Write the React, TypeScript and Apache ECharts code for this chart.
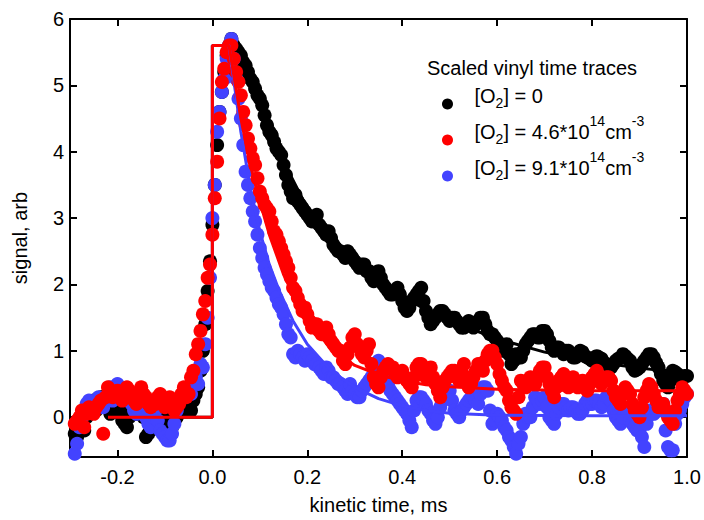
import React, { useEffect, useRef } from "react";
import * as echarts from "echarts";

const FONT = '"Liberation Sans", Arial, Helvetica, sans-serif';

// shared kinetic time axis (ms)
const time = [
  -0.29, -0.285, -0.28, -0.275, -0.27, -0.265, -0.26, -0.255,
  -0.25, -0.245, -0.24, -0.235, -0.23, -0.225, -0.22, -0.215, -0.21, -0.205,
  -0.2, -0.195, -0.19, -0.185, -0.18, -0.175, -0.17, -0.165, -0.16, -0.155,
  -0.15, -0.145, -0.14, -0.135, -0.13, -0.125, -0.12, -0.115, -0.11, -0.105,
  -0.1, -0.095, -0.09, -0.085, -0.08, -0.075, -0.07, -0.065, -0.06, -0.055,
  -0.05, -0.045, -0.04, -0.035, -0.03, -0.025, -0.02, -0.015, -0.01, -0.005,
  0, 0.005, 0.01, 0.015, 0.02, 0.025, 0.03, 0.035, 0.04, 0.045,
  0.05, 0.055, 0.06, 0.065, 0.07, 0.075, 0.08, 0.085, 0.09, 0.095,
  0.1, 0.105, 0.11, 0.115, 0.12, 0.125, 0.13, 0.135, 0.14, 0.145,
  0.15, 0.155, 0.16, 0.165, 0.17, 0.175, 0.18, 0.185, 0.19, 0.195,
  0.2, 0.205, 0.21, 0.215, 0.22, 0.225, 0.23, 0.235, 0.24, 0.245,
  0.25, 0.255, 0.26, 0.265, 0.27, 0.275, 0.28, 0.285, 0.29, 0.295,
  0.3, 0.305, 0.31, 0.315, 0.32, 0.325, 0.33, 0.335, 0.34, 0.345,
  0.35, 0.355, 0.36, 0.365, 0.37, 0.375, 0.38, 0.385, 0.39, 0.395,
  0.4, 0.405, 0.41, 0.415, 0.42, 0.425, 0.43, 0.435, 0.44, 0.445,
  0.45, 0.455, 0.46, 0.465, 0.47, 0.475, 0.48, 0.485, 0.49, 0.495,
  0.5, 0.505, 0.51, 0.515, 0.52, 0.525, 0.53, 0.535, 0.54, 0.545,
  0.55, 0.555, 0.56, 0.565, 0.57, 0.575, 0.58, 0.585, 0.59, 0.595,
  0.6, 0.605, 0.61, 0.615, 0.62, 0.625, 0.63, 0.635, 0.64, 0.645,
  0.65, 0.655, 0.66, 0.665, 0.67, 0.675, 0.68, 0.685, 0.69, 0.695,
  0.7, 0.705, 0.71, 0.715, 0.72, 0.725, 0.73, 0.735, 0.74, 0.745,
  0.75, 0.755, 0.76, 0.765, 0.77, 0.775, 0.78, 0.785, 0.79, 0.795,
  0.8, 0.805, 0.81, 0.815, 0.82, 0.825, 0.83, 0.835, 0.84, 0.845,
  0.85, 0.855, 0.86, 0.865, 0.87, 0.875, 0.88, 0.885, 0.89, 0.895,
  0.9, 0.905, 0.91, 0.915, 0.92, 0.925, 0.93, 0.935, 0.94, 0.945,
  0.95, 0.955, 0.96, 0.965, 0.97, 0.975, 0.98, 0.985, 0.99, 0.995,
  1.0,
];

// [O2] = 0 (black)
const signalZero = [
  -0.25, -0.3, -0.1, -0.05, -0.2, 0.0, 0.05, 0.2,
  0.25, 0.1, 0.15, 0.3, 0.3, 0.15, 0.2, 0.05, 0.1, 0.2,
  0.25, 0.1, -0.05, -0.1, -0.15, 0.0, 0.1, 0.15, 0.05, 0.1,
  0.15, 0.0, -0.3, -0.25, -0.1, 0.0, 0.05, 0.1, -0.05, 0.0,
  0.0, -0.1, -0.2, -0.15, 0.05, 0.0, 0.1, 0.15, 0.2, 0.1,
  0.15, 0.1, 0.25, 0.35, 0.45, 0.7, 1.0, 1.4, 1.9, 2.35,
  2.9, 3.5, 4.1, 4.6, 4.9, 5.2, 5.45, 5.6, 5.7, 5.6,
  5.55, 5.5, 5.45, 5.35, 5.3, 5.2, 5.1, 5.05, 4.95, 4.85,
  4.8, 4.7, 4.55, 4.4, 4.3, 4.25, 4.15, 4.05, 4.0, 3.95,
  3.8, 3.65, 3.5, 3.4, 3.3, 3.35, 3.25, 3.2, 3.15, 3.1,
  3.05, 3.0, 2.95, 3.0, 3.05, 2.9, 2.85, 2.8, 2.75, 2.8,
  2.7, 2.6, 2.55, 2.5, 2.5, 2.45, 2.4, 2.5, 2.45, 2.4,
  2.35, 2.3, 2.25, 2.3, 2.3, 2.2, 2.2, 2.1, 2.05, 2.15,
  2.2, 2.1, 2.0, 1.95, 1.9, 1.85, 1.85, 1.9, 1.95, 1.85,
  1.75, 1.65, 1.6, 1.65, 1.75, 1.8, 1.85, 1.9, 1.95, 1.75,
  1.6, 1.5, 1.4, 1.45, 1.5, 1.55, 1.6, 1.6, 1.55, 1.5,
  1.45, 1.5, 1.5, 1.45, 1.4, 1.35, 1.35, 1.4, 1.45, 1.4,
  1.35, 1.4, 1.45, 1.5, 1.5, 1.4, 1.3, 1.25, 1.25, 1.2,
  1.15, 1.1, 1.05, 1.0, 1.1, 0.95, 0.8, 0.85, 0.95, 0.9,
  0.9, 1.0, 1.1, 1.15, 1.2, 1.25, 1.25, 1.2, 1.2, 1.3,
  1.3, 1.25, 1.15, 1.05, 1.0, 1.05, 1.05, 1.0, 0.95, 1.0,
  1.0, 0.95, 0.9, 0.9, 0.95, 1.0, 0.98, 0.92, 0.9, 0.88,
  0.85, 0.9, 0.92, 0.9, 0.88, 0.82, 0.8, 0.78, 0.75, 0.8,
  0.85, 0.88, 0.9, 0.95, 0.92, 0.88, 0.85, 0.75, 0.7, 0.72,
  0.75, 0.8, 0.85, 0.9, 0.95, 0.95, 0.9, 0.82, 0.75, 0.65,
  0.55, 0.5, 0.45, 0.55, 0.7, 0.68, 0.65, 0.6, 0.6, 0.62,
  0.62,
];

// [O2] = 4.6e14 (red)
const signalMid = [
  -0.1, -0.05, 0.0, 0.1, -0.15, 0.05, 0.15, 0.1,
  0.05, 0.15, 0.2, 0.25, -0.25, 0.3, 0.45, 0.4, 0.3, 0.35,
  0.4, 0.3, 0.25, 0.35, 0.45, 0.4, 0.3, 0.25, 0.2, 0.3,
  0.45, 0.35, 0.3, 0.2, 0.15, 0.25, 0.2, 0.3, 0.35, 0.25,
  0.15, 0.25, 0.3, 0.2, 0.1, 0.15, 0.2, 0.35, 0.45, 0.3,
  0.35, 0.6, 0.7, 0.95, 1.1, 1.3, 1.55, 1.75, 2.1, 2.3,
  2.75, 3.3, 3.85, 4.5, 5.05, 5.25, 5.5, 5.6, 5.6, 5.4,
  5.2, 5.05, 4.85, 4.6, 4.4, 4.2, 4.05, 3.9, 3.8, 3.6,
  3.4, 3.3, 3.2, 3.15, 3.1, 2.95, 2.8, 2.75, 2.65, 2.55,
  2.45, 2.35, 2.25, 2.1, 1.95, 1.9, 1.8, 1.7, 1.6, 1.65,
  1.55, 1.45, 1.35, 1.4, 1.4, 1.3, 1.25, 1.3, 1.35, 1.25,
  1.15, 1.1, 1.05, 1.0, 1.0, 0.85, 0.8, 0.95, 1.05, 1.2,
  1.25, 1.1, 1.05, 0.95, 0.9, 1.0, 1.1, 0.8, 0.6, 0.5,
  0.45, 0.6, 0.7, 0.75, 0.8, 0.75, 0.75, 0.65, 0.6, 0.65,
  0.7, 0.6, 0.55, 0.5, 0.45, 0.6, 0.75, 0.8, 0.8, 0.7,
  0.6, 0.7, 0.75, 0.6, 0.5, 0.4, 0.3, 0.45, 0.55, 0.6,
  0.65, 0.7, 0.7, 0.6, 0.55, 0.7, 0.8, 0.6, 0.45, 0.5,
  0.6, 0.7, 0.8, 0.75, 0.7, 0.85, 0.95, 1.0, 1.0, 0.9,
  0.8, 0.65, 0.55, 0.45, 0.4, 0.25, 0.15, 0.1, 0.05, 0.3,
  0.55, 0.5, 0.45, 0.55, 0.6, 0.55, 0.5, 0.6, 0.7, 0.75,
  0.75, 0.6, 0.5, 0.4, 0.3, 0.45, 0.55, 0.6, 0.65, 0.55,
  0.45, 0.55, 0.6, 0.5, 0.45, 0.5, 0.55, 0.45, 0.4, 0.5,
  0.6, 0.65, 0.7, 0.6, 0.5, 0.55, 0.6, 0.6, 0.55, 0.4,
  0.3, 0.25, 0.2, 0.35, 0.45, 0.4, 0.35, 0.2, 0.1, 0.05,
  0.0, 0.15, 0.3, 0.4, 0.5, 0.45, 0.35, 0.25, 0.15, 0.2,
  0.2, 0.1, 0.0, -0.05, -0.1, 0.1, 0.25, 0.35, 0.45, 0.4,
  0.35,
];

// [O2] = 9.1e14 (blue)
const signalHigh = [
  -0.55, -0.4, -0.15, 0.0, 0.1, 0.2, 0.25, 0.15,
  0.1, 0.2, 0.3, 0.25, 0.15, 0.3, 0.35, 0.45, 0.25, 0.4,
  0.5, 0.4, 0.3, 0.35, 0.4, 0.3, 0.2, 0.1, 0.05, 0.2,
  0.35, 0.15, 0.0, -0.1, -0.15, 0.0, 0.1, -0.05, -0.2, -0.25,
  -0.3, -0.35, -0.35, -0.25, -0.1, 0.1, 0.25, 0.3, 0.35, 0.4,
  0.45, 0.35, 0.55, 0.6, 0.5, 0.8, 0.75, 1.1, 1.5, 2.1,
  3.0, 3.5, 4.3, 4.6, 4.9, 5.1, 5.4, 5.6, 5.7, 5.4,
  5.1, 4.8, 4.5, 4.1, 3.7, 3.5, 3.3, 3.1, 2.95, 2.75,
  2.55, 2.4, 2.25, 2.15, 2.05, 1.95, 1.9, 1.8, 1.7, 1.65,
  1.55, 1.4, 1.25, 1.2, 0.95, 0.9, 1.0, 0.95, 0.9, 0.85,
  0.95, 0.9, 0.85, 0.8, 0.8, 0.75, 0.7, 0.65, 0.75, 0.7,
  0.6, 0.6, 0.55, 0.5, 0.5, 0.45, 0.4, 0.35, 0.5, 0.4,
  0.35, 0.3, 0.3, 0.4, 0.45, 0.5, 0.55, 0.6, 0.7, 0.8,
  0.85, 0.75, 0.65, 0.55, 0.5, 0.4, 0.35, 0.3, 0.25, 0.2,
  0.15, 0.1, 0.05, -0.05, -0.15, 0.1, 0.25, 0.3, 0.3, 0.25,
  0.2, 0.1, 0.05, -0.05, -0.1, 0.0, 0.15, 0.25, 0.3, 0.35,
  0.4, 0.25, 0.1, 0.05, 0.0, 0.1, 0.15, 0.2, 0.25, 0.3,
  0.3, 0.25, 0.2, 0.35, 0.45, 0.45, 0.4, 0.1, -0.1, -0.05,
  0.05, 0.0, -0.05, -0.15, -0.2, -0.3, -0.35, -0.45, -0.55, -0.4,
  -0.3, -0.1, 0.05, 0.0, 0.0, 0.15, 0.3, 0.25, 0.2, 0.25,
  0.3, 0.15, 0.0, -0.05, -0.1, 0.05, 0.15, 0.2, 0.2, 0.15,
  0.1, 0.15, 0.15, 0.1, 0.05, 0.05, 0.1, 0.2, 0.25, 0.2,
  0.2, 0.25, 0.25, 0.2, 0.15, 0.2, 0.3, 0.3, 0.25, 0.1,
  0.0, -0.05, -0.1, 0.0, 0.1, 0.05, -0.05, -0.1, -0.15, -0.2,
  -0.2, -0.3, -0.45, -0.1, 0.1, 0.05, 0.05, 0.1, 0.15, 0.2,
  0.2, -0.2, -0.45, -0.5, -0.5, -0.1, 0.05, 0.1, 0.2, 0.3,
  0.35,
];

// fitted curves
const fitZeroX = [-0.22, 0, 0, 0.015, 0.035, 0.06, 0.1, 0.15, 0.2, 0.25, 0.3, 0.35, 0.4, 0.45, 0.5, 0.6, 0.7, 0.8, 0.9, 1.0];
const fitZeroY = [0, 0, 5.6, 5.6, 5.6, 5.3, 4.75, 3.85, 3.15, 2.7, 2.35, 2.05, 1.82, 1.62, 1.45, 1.18, 0.98, 0.84, 0.74, 0.66];
const fitMidX = [-0.22, 0, 0, 0.015, 0.035, 0.06, 0.08, 0.1, 0.12, 0.15, 0.18, 0.2, 0.25, 0.3, 0.35, 0.4, 0.45, 0.5, 0.6, 0.7, 0.8, 1.0];
const fitMidY = [0, 0, 5.6, 5.6, 5.6, 4.5, 3.8, 3.25, 2.75, 2.15, 1.7, 1.45, 1.03, 0.78, 0.64, 0.55, 0.49, 0.46, 0.42, 0.41, 0.4, 0.4];
const fitHighX = [0, 0, 0.015, 0.035, 0.06, 0.08, 0.1, 0.12, 0.14, 0.17, 0.2, 0.25, 0.3, 0.35, 0.4, 0.45, 0.5, 0.6, 0.8, 1.0];
const fitHighY = [0, 5.6, 5.6, 5.6, 4.3, 3.45, 2.8, 2.3, 1.92, 1.45, 1.1, 0.7, 0.45, 0.28, 0.17, 0.1, 0.06, 0.03, 0.02, 0.02];

const xTicks = [-0.2, 0, 0.2, 0.4, 0.6, 0.8, 1.0];
const yTicks = [0, 1, 2, 3, 4, 5, 6];
const yTicksRight = [0, 1, 2, 3, 4, 5];

const names = ["[O2] = 0", "[O2] = 4.6*10^14 cm^-3", "[O2] = 9.1*10^14 cm^-3"];
const legendRich: Record<string, string> = {
  "[O2] = 0": "{n|[O}{sub|2}{n|] = 0}",
  "[O2] = 4.6*10^14 cm^-3": "{n|[O}{sub|2}{n|] = 4.6*10}{sup|14}{n|cm}{sup|-3}",
  "[O2] = 9.1*10^14 cm^-3": "{n|[O}{sub|2}{n|] = 9.1*10}{sup|14}{n|cm}{sup|-3}",
};
const colors = ["#000000", "#ff0000", "#4343ff"];

const pairs = (xs: number[], ys: number[]) => xs.map((x, i) => [x, ys[i]]);

export default function App() {
  const ref = useRef<HTMLDivElement>(null);
  useEffect(() => {
    if (!ref.current) return;
    const chart = echarts.init(ref.current, undefined, { renderer: "svg" });
    const axisLine = { show: true, onZero: false, lineStyle: { color: "#000", width: 2 } };
    const tickStyle = { color: "#000", width: 2 };
    const scatter = (name: string, ys: number[], color: string, z: number) => ({
      name,
      type: "scatter",
      data: pairs(time, ys),
      symbol: "circle",
      symbolSize: 14,
      itemStyle: { color, opacity: 1 },
      z,
      silent: true,
    });
    const fit = (xs: number[], ys: number[], color: string, z: number) => ({
      type: "line",
      data: pairs(xs, ys),
      showSymbol: false,
      symbol: "none",
      lineStyle: { color, width: 3 },
      z,
      silent: true,
    });
    chart.setOption({
      animation: false,
      backgroundColor: "#ffffff",
      grid: { left: 70, right: 17, top: 19, bottom: 59, containLabel: false },
      title: {
        text: "Scaled vinyl time traces",
        left: 427,
        top: 58,
        padding: 0,
        textStyle: { fontFamily: FONT, fontSize: 20, fontWeight: "normal", color: "#000" },
      },
      legend: {
        data: names,
        orient: "vertical",
        left: 442,
        top: 78,
        padding: 0,
        itemGap: 0,
        itemWidth: 44,
        itemHeight: 11,
        icon: "circle",
        selectedMode: false,
        formatter: (name: string) => legendRich[name],
        textStyle: {
          fontFamily: FONT,
          fontSize: 20,
          color: "#000",
          rich: {
            n: { fontFamily: FONT, fontSize: 20, lineHeight: 20, color: "#000", padding: [8, 0, 8, 0], verticalAlign: "bottom" },
            sub: { fontFamily: FONT, fontSize: 14, lineHeight: 14, color: "#000", padding: [0, 0, 4, 0], verticalAlign: "bottom" },
            sup: { fontFamily: FONT, fontSize: 14, lineHeight: 14, color: "#000", padding: [0, 0, 22, 0], verticalAlign: "bottom" },
          },
        },
      },
      xAxis: [
        {
          type: "value",
          min: -0.3,
          max: 1.0,
          position: "bottom",
          name: "kinetic time, ms",
          nameLocation: "middle",
          nameGap: 38,
          nameTextStyle: { fontFamily: FONT, fontSize: 20, color: "#000" },
          axisLine,
          axisTick: { show: true, inside: true, length: 7, lineStyle: tickStyle, customValues: xTicks },
          axisLabel: {
            show: true,
            margin: 10,
            fontFamily: FONT,
            fontSize: 20,
            color: "#000",
            customValues: xTicks,
            formatter: (v: number) => v.toFixed(1),
          },
          splitLine: { show: false },
        },
        {
          type: "value",
          min: -0.3,
          max: 1.0,
          position: "top",
          axisLine,
          axisTick: { show: true, inside: true, length: 7, lineStyle: tickStyle, customValues: xTicks },
          axisLabel: { show: false },
          splitLine: { show: false },
        },
      ],
      yAxis: [
        {
          type: "value",
          min: -0.6,
          max: 6,
          position: "left",
          name: "signal, arb",
          nameLocation: "middle",
          nameGap: 40,
          nameTextStyle: { fontFamily: FONT, fontSize: 20, color: "#000" },
          axisLine,
          axisTick: { show: true, inside: true, length: 7, lineStyle: tickStyle, customValues: yTicks },
          axisLabel: {
            show: true,
            margin: 6,
            fontFamily: FONT,
            fontSize: 20,
            color: "#000",
            customValues: yTicks,
            formatter: (v: number) => String(v),
          },
          splitLine: { show: false },
        },
        {
          type: "value",
          min: -0.6,
          max: 6,
          position: "right",
          axisLine,
          axisTick: { show: true, inside: true, length: 7, lineStyle: tickStyle, customValues: yTicksRight },
          axisLabel: { show: false },
          splitLine: { show: false },
        },
      ],
      series: [
        fit(fitZeroX, fitZeroY, colors[0], 1),
        scatter(names[0], signalZero, colors[0], 2),
        scatter(names[2], signalHigh, colors[2], 3),
        scatter(names[1], signalMid, colors[1], 4),
        fit(fitHighX, fitHighY, colors[2], 5),
        fit(fitMidX, fitMidY, colors[1], 6),
      ],
    });
    return () => chart.dispose();
  }, []);
  return <div ref={ref} style={{ position: "fixed", left: 0, top: 0, width: 704, height: 520 }} />;
}
